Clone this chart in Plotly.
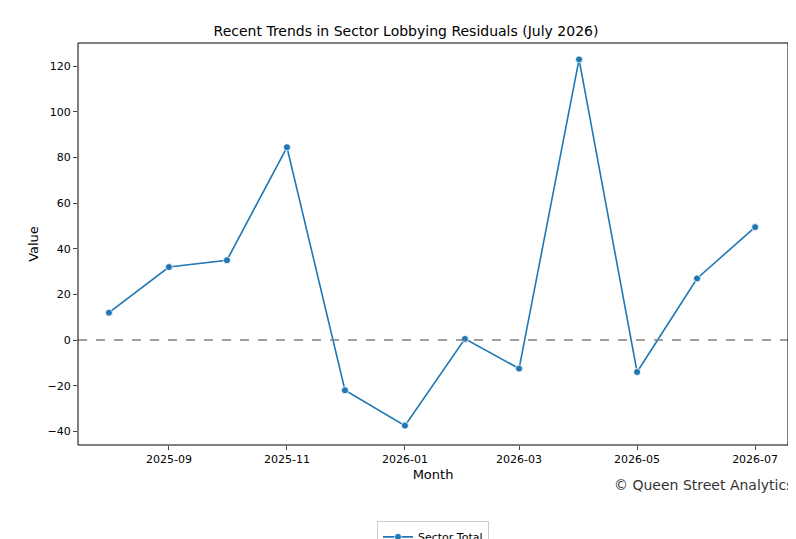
import plotly.graph_objects as go

months = ["2025-08-01","2025-09-01","2025-10-01","2025-11-01","2025-12-01","2026-01-01",
          "2026-02-01","2026-03-01","2026-04-01","2026-05-01","2026-06-01","2026-07-01"]
values = [12, 32, 35, 84.5, -22, -37.5, 0.5, -12.5, 123, -14, 27, 49.5]
tick_vals = ["2025-09-01","2025-11-01","2026-01-01","2026-03-01","2026-05-01","2026-07-01"]
tick_text = ["2025-09","2025-11","2026-01","2026-03","2026-05","2026-07"]

fig = go.Figure()
fig.add_trace(go.Scatter(x=months, y=values, mode="lines+markers", name="Sector Total",
                         line=dict(color="#1f77b4", width=1.6),
                         marker=dict(size=7, color="#1f77b4", line=dict(color="white", width=0.8))))
fig.add_hline(y=0, line=dict(color="gray", dash="dash", width=1.5))
fig.add_shape(type="rect", xref="paper", yref="paper", x0=0, x1=1, y0=0, y1=1,
              line=dict(color="black", width=1), layer="above")
fig.update_layout(
    width=796, height=539, plot_bgcolor="white", paper_bgcolor="white",
    margin=dict(l=70, r=16, t=35, b=102, autoexpand=False),
    font=dict(family="DejaVu Sans", size=11, color="black"),
    title=dict(text="Recent Trends in Sector Lobbying Residuals (July 2026)", x=0.5, xanchor="center",
               y=0.967, font=dict(size=14)),
    showlegend=True,
    legend=dict(orientation="h", x=0.5, xanchor="center", y=-0.19, yanchor="top",
                bordercolor="#cccccc", borderwidth=1, font=dict(size=11)),
    xaxis=dict(title=dict(text="Month", standoff=4), range=["2025-07-16","2026-07-18"], automargin=False,
               tickvals=tick_vals, ticktext=tick_text, showgrid=False, zeroline=False,
               showline=False, ticks="outside", ticklen=4),
    yaxis=dict(title=dict(text="Value", standoff=6), range=[-46, 130.2], automargin=False,
               tickvals=[-40,-20,0,20,40,60,80,100,120],
               showgrid=False, zeroline=False, showline=False, ticks="outside", ticklen=4),
)
fig.add_annotation(text="© Queen Street Analytics", xref="paper", yref="paper", x=1.01, y=-0.1,
                   xanchor="right", yanchor="middle", showarrow=False, font=dict(size=14, color="#333"))
fig.write_html("out.html")
